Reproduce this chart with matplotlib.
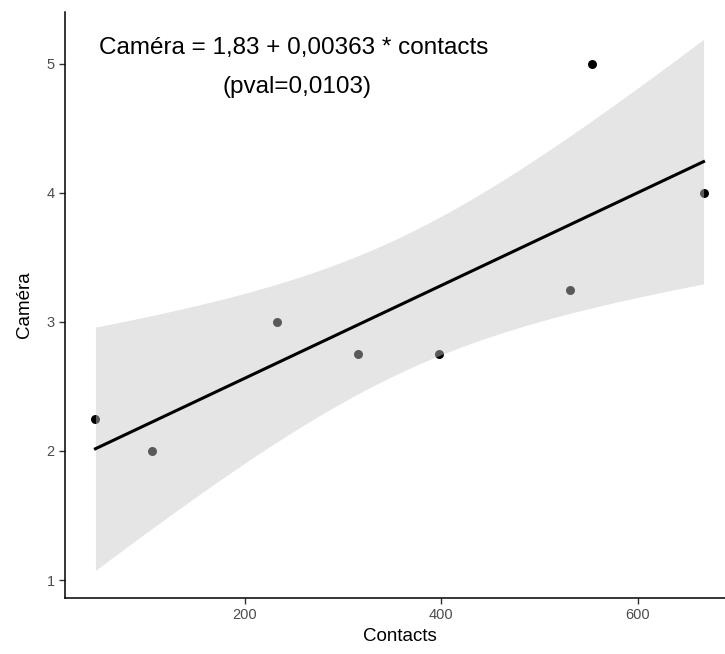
import numpy as np
import matplotlib.pyplot as plt

plt.rcParams['font.family'] = ['Liberation Sans', 'DejaVu Sans']

# data
contacts = [48, 106, 233, 315, 398, 531, 553, 667]
camera = [2.25, 2.0, 3.0, 2.75, 2.75, 3.25, 5.0, 4.0]
eq_text = "Caméra = 1,83 + 0,00363 * contacts"
pval_text = "(pval=0,0103)"

x = np.array(contacts, dtype=float)
y = np.array(camera, dtype=float)

# linear fit + 95% confidence band (like geom_smooth(method='lm'))
n = len(x)
slope, intercept = np.polyfit(x, y, 1)
resid = y - (intercept + slope * x)
s = np.sqrt(np.sum(resid ** 2) / (n - 2))
t_crit = 2.4469  # t(0.975, df=6)
xs = np.linspace(x.min(), x.max(), 200)
fit = intercept + slope * xs
se = s * np.sqrt(1 / n + (xs - x.mean()) ** 2 / np.sum((x - x.mean()) ** 2))

fig = plt.figure(figsize=(7.25, 6.54), dpi=100)
ax = fig.add_axes([65 / 725, 56 / 654, 669 / 725, 586 / 654])

ax.scatter(x, y, s=42, color='black', zorder=2, linewidths=0)
ax.fill_between(xs, fit - t_crit * se, fit + t_crit * se, color='#C6C6C6',
                alpha=0.45, linewidth=0, zorder=3)
ax.plot(xs, fit, color='black', linewidth=2.2, zorder=4)

ax.text(250, 5.12, eq_text, ha='center', va='center', fontsize=17.5)
ax.text(253, 4.82, pval_text, ha='center', va='center', fontsize=17.5)

ax.set_xlim(17, 698)
ax.set_ylim(0.861, 5.40)
ax.set_xticks([200, 400, 600])
ax.set_yticks([1, 2, 3, 4, 5])

for side in ['top', 'right']:
    ax.spines[side].set_visible(False)
for side in ['left', 'bottom']:
    ax.spines[side].set_linewidth(1.1)
ax.tick_params(colors='#333333', labelcolor='#4D4D4D', labelsize=10.5,
               length=4, width=1)
ax.set_xlabel('Contacts', fontsize=13.5, labelpad=4)
ax.set_ylabel('Caméra', fontsize=13.5, labelpad=10)

plt.savefig('out.png', dpi=100)
